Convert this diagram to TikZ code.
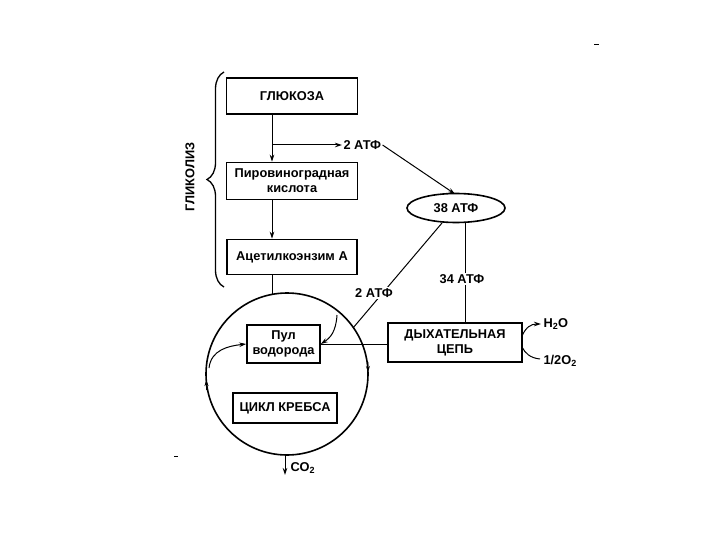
\documentclass[tikz,border=0pt]{standalone}
\usepackage{fontspec}
\setmainfont{Liberation Sans}
\usetikzlibrary{shapes.geometric,arrows.meta,decorations.pathreplacing}
\begin{document}
\begin{tikzpicture}[x=1pt,y=-1pt,
  line width=1pt,
  >={Stealth[length=7pt,width=4.5pt]},
  txt/.style={font=\bfseries\fontsize{12.8}{15}\selectfont, inner sep=1pt},
  box/.style={draw, line width=1.6pt, align=center, inner sep=0pt,
    font=\bfseries\fontsize{12.8}{15}\selectfont},
  lbl/.style={txt, fill=white},
]
\useasboundingbox (0,0) rectangle (720,540);
% boxes
\node[box, minimum width=131pt, minimum height=36pt] (glu) at (292,96) {ГЛЮКОЗА};
\node[box, minimum width=131pt, minimum height=37pt] (pvk) at (292,181) {Пировиноградная\\кислота};
\node[box, minimum width=130pt, minimum height=35pt] (acet) at (292,257) {Ацетилкоэнзим А};
\node[draw, ellipse, line width=1.6pt, minimum width=98pt, minimum height=29pt, txt] (e38) at (456,208) {38 АТФ};
\node[circle, draw, line width=1.6pt, minimum size=162pt, inner sep=0pt] (cyc) at (287,374) {};
\node[box, minimum width=73pt, minimum height=38pt] (pool) at (283.5,344) {Пул\\водорода};
\node[box, minimum width=104pt, minimum height=30pt] (krebs) at (285,408) {ЦИКЛ КРЕБСА};
\node[box, minimum width=134pt, minimum height=39pt] (resp) at (455,342.5) {ДЫХАТЕЛЬНАЯ\\ЦЕПЬ};
% glycolysis brace
\draw[decorate, decoration={brace, amplitude=17pt}, line width=1.3pt] (224,287) -- (224,72);
\node[txt, rotate=90] (glik) at (190,177) {ГЛИКОЛИЗ};
% main vertical
\coordinate (lx) at (272,0);
\coordinate (br) at (272,145);
\coordinate (ctop) at (272,294);
\draw[->] (glu.south -| lx) -- (pvk.north -| lx);
\draw[->] (pvk.south -| lx) -- (acet.north -| lx);
\draw (acet.south -| lx) -- (ctop);
\node[txt, anchor=west] (a2top) at (342,145) {2 АТФ};
\draw[->] (br) -- (a2top.west);
\coordinate (e38top) at (455,194);
\draw[->] (a2top.east) -- (e38top);
% 38 -> cycle
\coordinate (e38sw) at (442,223);
\coordinate (cin) at (353,328);
\draw (e38sw) -- (cin);
\node[lbl] (a2b) at (374,293) {2 АТФ};
\coordinate (cstart) at (337,315);
\draw[->] (cstart) .. controls (336,332) and (330,338) .. (pool.east);
% 34 ATF
\coordinate (vx) at (465,222);
\draw (vx) -- (resp.north -| vx);
\node[lbl] (a34) at (462,279) {34 АТФ};
% pool -> resp
\draw (pool.east) -- (pool.east -| resp.west);
% left inner arrow
\coordinate (cleft) at (209,368);
\draw[->] (cleft) .. controls (211,350) and (228,346) .. (pool.west);
% cycle direction marks
\draw[-{Stealth[length=6pt,width=4pt]}] (206.6,390) -- (206.3,380);
\draw[-{Stealth[length=6pt,width=4pt]}] (367.9,362) -- (368,372);
% CO2
\coordinate (cbot) at (285,455);
\coordinate (co2end) at (285,475);
\draw[->] (cbot) -- (co2end);
\node[txt, anchor=west] (co2) at (289,468) {CO\textsubscript{2}};
% H2O and 1/2 O2
\coordinate (rh) at (522,336);
\coordinate (hend) at (541,324);
\draw[->] (rh) .. controls (526,327) and (531,324) .. (hend);
\node[txt, anchor=west] (h2o) at (542,324) {H\textsubscript{2}O};
\coordinate (ostart) at (540,359);
\coordinate (rl) at (522,347);
\draw (ostart) .. controls (530,358) and (525,353) .. (rl);
\node[txt, anchor=west] (o2) at (542,361) {1/2O\textsubscript{2}};
% specks
\draw[line width=1pt] (594,45) -- (599,45);
\draw[line width=1pt] (174,456) -- (178,456);
\end{tikzpicture}
\end{document}
